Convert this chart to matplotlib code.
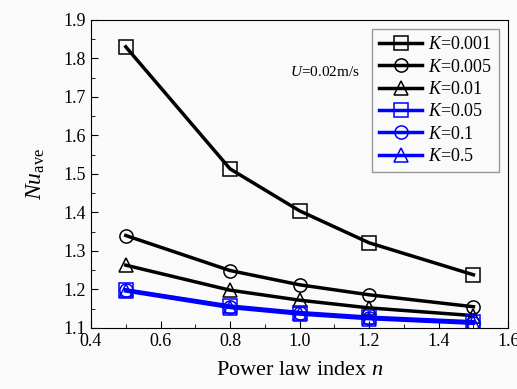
import matplotlib
matplotlib.use("Agg")
import matplotlib.pyplot as plt
from matplotlib.ticker import MultipleLocator

plt.rcParams["font.family"] = ["Liberation Serif", "DejaVu Serif"]
plt.rcParams["mathtext.fontset"] = "custom"
plt.rcParams["mathtext.rm"] = "Liberation Serif"
plt.rcParams["mathtext.it"] = "Liberation Serif:italic"

# 幂律指数
n_vals = [0.5, 0.8, 1.0, 1.2, 1.5]
k_labels = ["0.001", "0.005", "0.01", "0.05", "0.1", "0.5"]
nu_k0001 = [1.830, 1.513, 1.404, 1.321, 1.238]
nu_k0005 = [1.340, 1.249, 1.212, 1.186, 1.155]
nu_k001 = [1.263, 1.198, 1.172, 1.152, 1.132]
nu_k005 = [1.199, 1.157, 1.140, 1.128, 1.116]
nu_k01 = [1.198, 1.155, 1.138, 1.126, 1.114]
nu_k05 = [1.196, 1.153, 1.136, 1.124, 1.112]

series = [nu_k0001, nu_k0005, nu_k001, nu_k005, nu_k01, nu_k05]
colors = ["black", "black", "black", "blue", "blue", "blue"]
markers = ["s", "o", "^", "s", "o", "^"]

fig = plt.figure(figsize=(5.17, 3.89), dpi=100, facecolor="#fafafa")
ax = fig.add_axes([0.176, 0.157, 0.807, 0.792])
ax.set_facecolor("#fafafa")

for ys, c, m, k in zip(series, colors, markers, k_labels):
    ax.plot(n_vals, ys, color=c, lw=2.5, marker=m, markersize=9.5,
            markerfacecolor="none", markeredgecolor=c, markeredgewidth=1.1,
            label=f"$K$={k}")

ax.set_xlim(0.4, 1.6)
ax.set_ylim(1.1, 1.9)
ax.xaxis.set_major_locator(MultipleLocator(0.2))
ax.xaxis.set_minor_locator(MultipleLocator(0.1))
ax.yaxis.set_major_locator(MultipleLocator(0.1))
ax.yaxis.set_minor_locator(MultipleLocator(0.05))
ax.tick_params(which="both", direction="in", top=False, right=False, labelsize=13)
ax.tick_params(which="major", length=5)
ax.tick_params(which="minor", length=3)
ax.set_xticklabels([f"{v:.1f}" for v in ax.get_xticks()])
ax.set_yticklabels([f"{v:.1f}" for v in ax.get_yticks()])

ax.set_xlabel("Power law index $n$", fontsize=16, labelpad=8)
ax.set_ylabel("$Nu$$_{\\mathrm{ave}}$", fontsize=17, labelpad=12)
ax.text(0.477, 0.83, "$U$=0.02m/s", transform=ax.transAxes, fontsize=11,
        va="center")

leg = ax.legend(loc="upper right", fontsize=13, frameon=True, fancybox=False,
                edgecolor="gray", handlelength=2.4, borderaxespad=0.5,
                labelspacing=0.3, handletextpad=0.3)
leg.get_frame().set_facecolor("#fafafa")
leg.get_frame().set_linewidth(1.0)

fig.savefig("out.png", dpi=100, facecolor=fig.get_facecolor())
